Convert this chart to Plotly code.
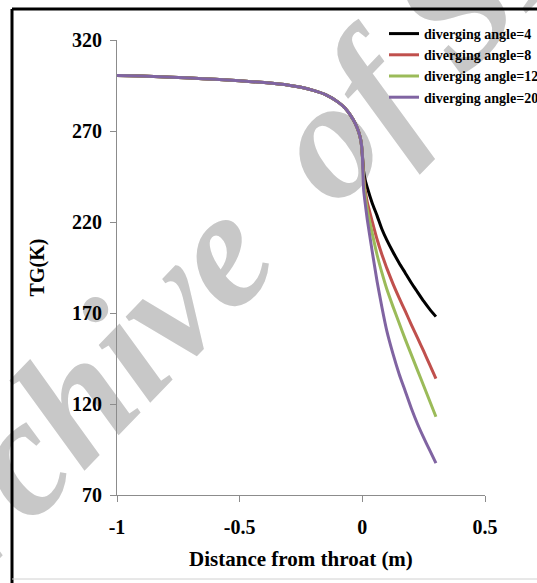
import plotly.graph_objects as go

# ---- data ----
x_upstream = [-1.0, -0.9, -0.8, -0.7, -0.6, -0.5, -0.4, -0.3, -0.25, -0.2, -0.15,
              -0.1, -0.07, -0.05, -0.03, -0.015, -0.005, 0.0]
tg_upstream = [300.5, 300.2, 299.7, 299.1, 298.4, 297.6, 296.6, 295.2, 294.0, 292.3, 290.0,
               286.0, 282.5, 279.0, 274.5, 269.5, 264.0, 257.0]

x_downstream = [0.005, 0.01, 0.02, 0.04, 0.06, 0.08, 0.1, 0.125, 0.15, 0.175, 0.2,
                0.225, 0.25, 0.275, 0.3]
tg_angle4 = [248, 244, 239, 230.5, 223.5, 216, 210, 203.5, 197.5, 192, 186.5,
             181.5, 176.5, 172, 168]
tg_angle8 = [246, 239, 231, 220.5, 210.5, 202, 194.5, 186, 178.3, 171, 163.5,
             156.3, 149, 141.5, 134]
tg_angle12 = [244, 236.5, 227, 214, 202, 192, 183, 173.5, 164.5, 155.5, 147,
              138.5, 130, 121.5, 113]
tg_angle20 = [238, 232, 221.5, 204, 187.5, 173, 160, 147.5, 136.5, 127, 117.5,
              109, 101.5, 94.5, 87.5]

series_names = ["diverging angle=4", "diverging angle=8", "diverging angle=12", "diverging angle=20"]
series_values = [tg_angle4, tg_angle8, tg_angle12, tg_angle20]
series_colors = ["#000000", "#C0504D", "#9BBB59", "#8064A2"]

x_ticks = [-1, -0.5, 0, 0.5]
x_tick_labels = ["-1", "-0.5", "0", "0.5"]
y_ticks = [70, 120, 170, 220, 270, 320]

FONT = "Liberation Serif"

fig = go.Figure()
for name, vals, col in zip(series_names, series_values, series_colors):
    fig.add_trace(go.Scatter(
        x=x_upstream + x_downstream,
        y=tg_upstream + vals,
        mode="lines",
        name=name,
        line=dict(color=col, width=3, shape="spline", smoothing=0.5),
    ))

# plot area in pixels: x 117..485, y 40..495
L, R, T, B = 117, 485, 40, 495
W, H = 537, 583


def px(xp):
    return (xp - L) / (R - L)


def py(yp):
    return (B - yp) / (B - T)


shapes = [
    # watermark (under the traces)
    dict(type="rect", xref="paper", yref="paper",
         x0=px(226), x1=px(230), y0=py(216), y1=py(212),
         line=dict(width=0), fillcolor="rgba(0,0,0,0)", layer="below",
         label=dict(text="<b><i>Archive\u2009 of SID</i></b>", textangle=-46,
                    textposition="middle center",
                    font=dict(size=168, color="#c8c8c8", family=FONT))),
    # frame lines
    dict(type="line", xref="paper", yref="paper", x0=px(12), x1=px(12), y0=py(9), y1=py(583),
         line=dict(color="black", width=3)),
    dict(type="line", xref="paper", yref="paper", x0=px(12), x1=px(537), y0=py(9), y1=py(9),
         line=dict(color="black", width=3)),
    dict(type="line", xref="paper", yref="paper", x0=px(12), x1=px(537), y0=py(579), y1=py(579),
         line=dict(color="#d0d0d0", width=1)),
]

fig.update_layout(
    width=W, height=H,
    margin=dict(l=L, r=W - R, t=T, b=H - B, autoexpand=False),
    paper_bgcolor="white", plot_bgcolor="rgba(0,0,0,0)",
    font=dict(family=FONT, color="black"),
    showlegend=True,
    legend=dict(x=px(384), y=py(18), xanchor="left", yanchor="top",
                bgcolor="rgba(0,0,0,0)", font=dict(size=14, family=FONT, weight="bold"),
                tracegroupgap=0, itemwidth=30),
    shapes=shapes,
    xaxis=dict(range=[-1, 0.5], tickvals=x_ticks, ticktext=x_tick_labels,
               showgrid=False, zeroline=False, showline=True, linecolor="#8c8c8c", linewidth=1,
               ticks="outside", ticklen=6, tickcolor="#8c8c8c", ticklabelstandoff=8,
               tickfont=dict(size=20, family=FONT, weight="bold"),
               title=dict(text="Distance from throat (m)", font=dict(size=21, family=FONT, weight="bold"),
                          standoff=14)),
    yaxis=dict(range=[70, 320], tickvals=y_ticks,
               showgrid=False, zeroline=False, showline=True, linecolor="#8c8c8c", linewidth=1,
               ticks="outside", ticklen=6, tickcolor="#8c8c8c", ticklabelstandoff=4,
               tickfont=dict(size=20, family=FONT, weight="bold"),
               title=dict(text="TG(K)", font=dict(size=20, family=FONT, weight="bold"),
                          standoff=22)),
)

fig.write_html("out.html")
